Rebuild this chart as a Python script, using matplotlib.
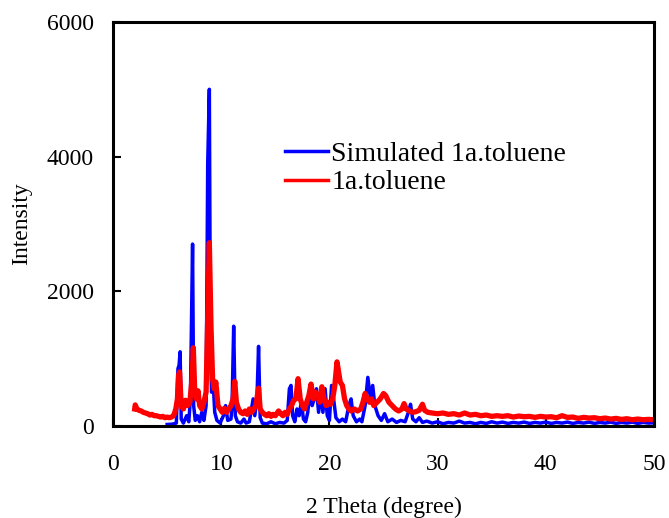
import matplotlib
matplotlib.use('Agg')
import matplotlib.pyplot as plt

plt.rcParams['font.family'] = ['Liberation Serif', 'DejaVu Serif']

# Simulated pattern (2 theta, intensity)
sim_x = [5.0, 5.5, 5.85, 6.0, 6.1, 6.2, 6.3, 6.5, 6.8, 7.0, 7.15, 7.25, 7.35, 7.45, 7.6,
         7.8, 8.0, 8.2, 8.4, 8.6, 8.75, 8.9, 9.0, 9.1, 9.25, 9.4, 9.6, 9.9, 10.2, 10.4,
         10.6, 10.9, 11.0, 11.15, 11.3, 11.5, 11.8, 12.1, 12.3, 12.6, 12.8, 12.95, 13.1, 13.3,
         13.45, 13.6, 13.8, 14.2, 14.6, 15.0, 15.4, 15.8, 16.1, 16.3, 16.45, 16.6, 16.8, 17.0,
         17.2, 17.4, 17.6, 17.8, 18.0, 18.2, 18.4, 18.6, 18.8, 19.0, 19.2, 19.4, 19.6, 19.8,
         20.0, 20.2, 20.35, 20.6, 20.9, 21.2, 21.5, 21.8, 22.0, 22.2, 22.5, 22.8, 23.0, 23.3,
         23.55, 23.8, 24.0, 24.2, 24.5, 24.8, 25.1, 25.4, 25.8, 26.2, 26.6, 27.0, 27.3, 27.5,
         27.7, 28.0, 28.3, 28.6, 29.0, 29.5, 30.0, 30.5, 31.0, 31.5, 32.0, 32.5, 33.0, 33.5,
         34.0, 34.5, 35.0, 35.5, 36.0, 36.5, 37.0, 37.5, 38.0, 38.5, 39.0, 39.5, 40.0, 40.5,
         41.0, 41.5, 42.0, 42.5, 43.0, 43.5, 44.0, 44.5, 45.0, 45.5, 46.0, 46.5, 47.0, 47.5,
         48.0, 48.5, 49.0, 49.5, 50.0]
sim_y = [20, 25, 40, 850, 900, 1100, 100, 40, 150, 60, 400, 1500, 2700, 300, 80,
         150, 60, 200, 80, 300, 3900, 5000, 1200, 500, 650, 200, 80, 40, 150, 300,
         80, 100, 300, 1480, 150, 60, 40, 100, 40, 60, 250, 400, 150, 400,
         1180, 120, 40, 30, 60, 30, 50, 40, 80, 550, 600, 150, 60, 250,
         150, 350, 100, 60, 200, 550, 300, 400, 550, 200, 500, 200, 550, 150,
         80, 600, 450, 120, 60, 100, 60, 300, 400, 150, 60, 100, 60, 300,
         720, 400, 600, 300, 150, 80, 180, 60, 100, 50, 80, 60, 200, 320,
         100, 60, 120, 50, 70, 40, 60, 30, 50, 40, 70, 40, 50, 30,
         50, 35, 60, 40, 55, 35, 50, 40, 55, 35, 50, 40, 55, 35,
         50, 40, 55, 35, 50, 40, 55, 35, 50, 40, 55, 35, 50, 40,
         55, 35, 50, 40, 45]

# Measured pattern (2 theta, intensity)
exp_x = [2.0, 2.05, 2.2, 2.4, 2.6, 2.8, 3.0, 3.2, 3.4, 3.6, 3.8, 4.0, 4.2, 4.4, 4.6,
         4.8, 5.0, 5.2, 5.4, 5.6, 5.8, 5.95, 6.05, 6.15, 6.3, 6.5, 6.7, 6.9, 7.1, 7.3,
         7.42, 7.55, 7.7, 7.85, 8.0, 8.2, 8.4, 8.6, 8.75, 8.9, 9.05, 9.2, 9.35, 9.5, 9.7,
         9.9, 10.1, 10.3, 10.5, 10.7, 10.9, 11.1, 11.25, 11.4, 11.6, 11.8, 12.0, 12.2, 12.4,
         12.6, 12.8, 13.0, 13.2, 13.45, 13.6, 13.8, 14.0, 14.2, 14.4, 14.6, 14.8, 15.0, 15.3,
         15.5, 15.7, 15.9, 16.1, 16.3, 16.5, 16.7, 16.9, 17.1, 17.3, 17.5, 17.7, 17.9, 18.1,
         18.3, 18.5, 18.7, 18.9, 19.1, 19.3, 19.5, 19.7, 19.9, 20.1, 20.3, 20.5, 20.7, 20.85,
         21.0, 21.2, 21.4, 21.6, 21.8, 22.0, 22.3, 22.6, 22.9, 23.1, 23.3, 23.5, 23.7, 23.9,
         24.1, 24.4, 24.7, 25.0, 25.2, 25.5, 25.8, 26.1, 26.4, 26.7, 26.9, 27.1, 27.4, 27.7,
         28.0, 28.3, 28.6, 28.8, 29.1, 29.5, 30.0, 30.5, 31.0, 31.5, 32.0, 32.5, 33.0, 33.5,
         34.0, 34.5, 35.0, 35.5, 36.0, 36.5, 37.0, 37.5, 38.0, 38.5, 39.0, 39.5, 40.0, 40.5,
         41.0, 41.5, 42.0, 42.5, 43.0, 43.5, 44.0, 44.5, 45.0, 45.5, 46.0, 46.5, 47.0, 47.5,
         48.0, 48.5, 49.0, 49.5, 50.0]
exp_y = [250, 310, 250, 230, 220, 200, 190, 180, 160, 170, 150, 150, 140, 130, 140,
         120, 130, 120, 130, 150, 250, 400, 750, 800, 300, 250, 380, 300, 350, 700,
         1160, 500, 400, 520, 300, 250, 350, 500, 1600, 2720, 1500, 700, 550, 650, 300,
         250, 200, 260, 200, 250, 300, 400, 660, 350, 250, 200, 180, 220, 170,
         250, 200, 250, 300, 560, 250, 200, 170, 150, 180, 140, 170, 150, 220,
         180, 150, 200, 170, 250, 300, 380, 400, 700, 400, 300, 250, 350, 450,
         620, 400, 500, 450, 350, 580, 400, 300, 350, 320, 400, 600, 950, 800,
         650, 600, 400, 300, 250, 220, 250, 220, 250, 350, 480, 400, 350, 400,
         300, 350, 400, 480, 450, 350, 300, 250, 220, 250, 330, 250, 220, 200,
         210, 230, 320, 230, 200, 190, 180, 190, 170, 180, 160, 190, 160, 170,
         150, 160, 140, 150, 140, 150, 130, 145, 135, 140, 125, 140, 130, 135,
         120, 150, 125, 130, 110, 125, 115, 120, 105, 115, 100, 110, 95, 105,
         90, 100, 90, 95, 90]

fig = plt.figure(figsize=(6.69, 5.18), dpi=100)
ax = fig.add_axes([0.169, 0.178, 0.8085, 0.7795])

ax.plot(sim_x, sim_y, color='#0000ff', linewidth=2.5, label='Simulated 1a.toluene')
ax.plot(exp_x, exp_y, color='#ff0000', linewidth=3.8, label='1a.toluene')

ax.set_xlim(0, 50)
ax.set_ylim(0, 6000)
ax.set_xticks([0, 10, 20, 30, 40, 50])
ax.set_yticks([0, 2000, 4000, 6000])

for s in ax.spines.values():
    s.set_linewidth(2.2)
ax.tick_params(axis='both', direction='in', length=6, width=1.5, labelsize=17)
ax.tick_params(axis='x', pad=20)
ax.tick_params(axis='y', pad=14)

ax.set_xlabel('2 Theta (degree)', fontsize=17, labelpad=16)
ax.set_ylabel('Intensity', fontsize=17, labelpad=10)

leg = ax.legend(loc='upper left', bbox_to_anchor=(0.297, 0.731), frameon=False, fontsize=20,
                handlelength=1.55, handletextpad=0.12, borderaxespad=0, labelspacing=0.1)
for h in leg.get_lines():
    h.set_linewidth(2.5)

plt.savefig('out.png', dpi=100)
